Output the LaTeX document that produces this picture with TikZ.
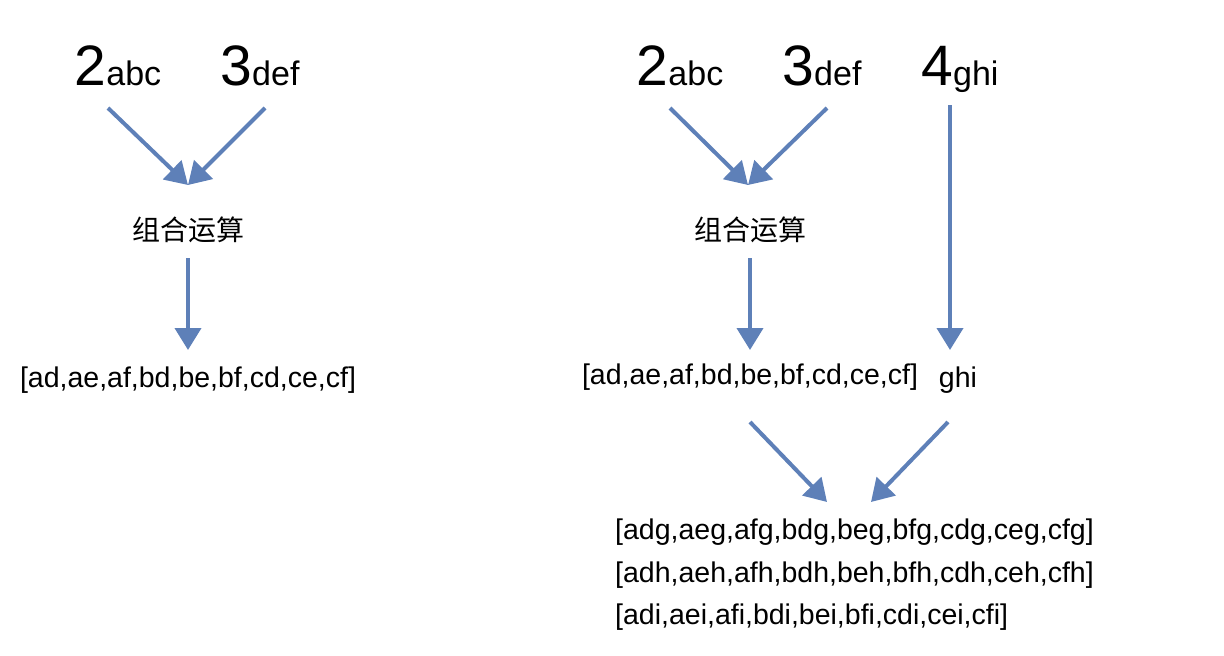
\documentclass[tikz,border=0pt]{standalone}
\usepackage{fontspec}
\setmainfont{Liberation Sans}
\newfontfamily\cjk{Noto Sans CJK SC}
\usetikzlibrary{arrows.meta}
\definecolor{arr}{HTML}{5E80B8}
\begin{document}
\begin{tikzpicture}[x=1pt,y=-1pt,
  ar/.style={draw=arr,line width=4pt,-{Triangle[length=22pt,width=26pt]}},
  big/.style={inner sep=0pt,anchor=base},
  lst/.style={font=\fontsize{28.5}{32}\selectfont,inner sep=0pt},
  zh/.style={font=\fontsize{28}{32}\selectfont\cjk,inner sep=0pt}]
\useasboundingbox (0,0) rectangle (1224,656);
\newcommand\lbl[2]{{\fontsize{57}{62}\selectfont #1}{\fontsize{34}{38}\selectfont #2}}
% left
\node[big] (a1) at (118,85) {\lbl{2}{abc}};
\node[big] (b1) at (260,85) {\lbl{3}{def}};
\coordinate (a1s) at (108,108); \coordinate (b1s) at (265,108);
\coordinate (j1) at (188,185);
\draw[ar] (a1s) -- (j1);
\draw[ar] (b1s) -- (j1);
\node[zh] (c1) at (188,230) {组合运算};
\coordinate (c1s) at (188,258); \coordinate (l1t) at (188,350);
\draw[ar] (c1s) -- (l1t);
\node[lst] (l1) at (188,380) {[ad,ae,af,bd,be,bf,cd,ce,cf]};
% right
\node[big] (a2) at (680,85) {\lbl{2}{abc}};
\node[big] (b2) at (822,85) {\lbl{3}{def}};
\node[big] (g2) at (960,85) {\lbl{4}{ghi}};
\coordinate (a2s) at (670,108); \coordinate (b2s) at (827,108);
\coordinate (j2) at (748,185);
\draw[ar] (a2s) -- (j2);
\draw[ar] (b2s) -- (j2);
\node[zh] (c2) at (750,230) {组合运算};
\coordinate (c2s) at (750,258); \coordinate (l2t) at (750,350);
\draw[ar] (c2s) -- (l2t);
\coordinate (g2s) at (950,105); \coordinate (h2t) at (950,350);
\draw[ar] (g2s) -- (h2t);
\node[lst] (l2) at (750,377) {[ad,ae,af,bd,be,bf,cd,ce,cf]};
\node[lst] (h2) at (958,380) {ghi};
\coordinate (l2s) at (750,422); \coordinate (h2s) at (948,422);
\coordinate (m1) at (827,502); \coordinate (m2) at (871,502);
\draw[ar] (l2s) -- (m1);
\draw[ar] (h2s) -- (m2);
\node[lst,anchor=west] (r1) at (615,532) {[adg,aeg,afg,bdg,beg,bfg,cdg,ceg,cfg]};
\node[lst,anchor=west] (r2) at (615,575) {[adh,aeh,afh,bdh,beh,bfh,cdh,ceh,cfh]};
\node[lst,anchor=west] (r3) at (615,617) {[adi,aei,afi,bdi,bei,bfi,cdi,cei,cfi]};
\end{tikzpicture}
\end{document}
